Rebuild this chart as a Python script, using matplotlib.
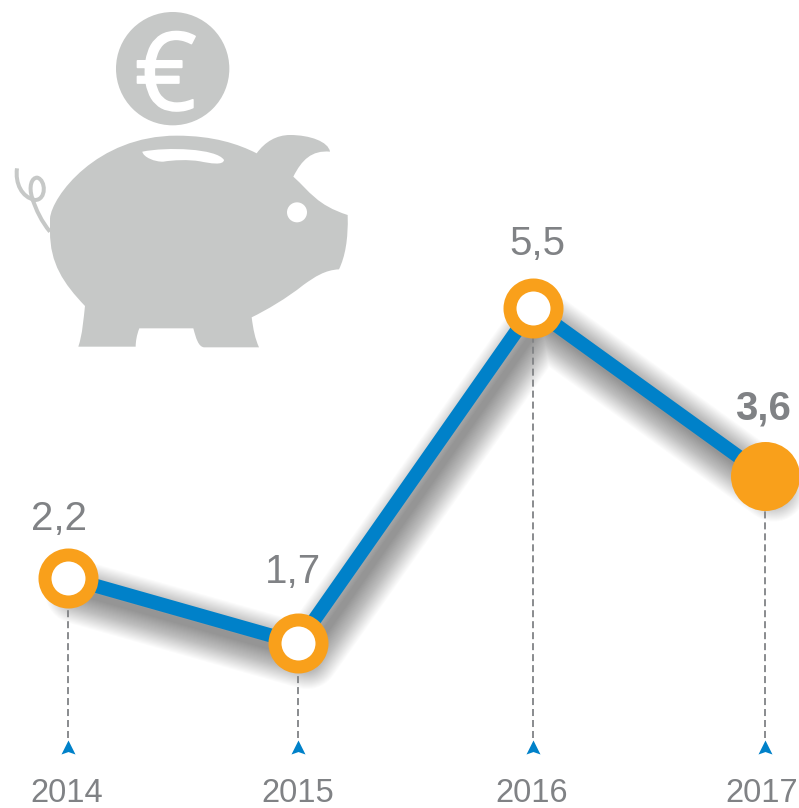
import matplotlib
matplotlib.use("Agg")
import matplotlib.pyplot as plt
import matplotlib.patheffects as pe
from matplotlib.patches import PathPatch, Circle
from matplotlib.path import Path
from matplotlib.transforms import ScaledTranslation

# positions as drawn in the picture, not quite evenly spaced
x_pos = [2014.0, 2014.99, 2016.0, 2017.0]
# heights as drawn too (2014 sits higher than its value would)
heights = [2.44, 1.70, 5.50, 3.60]
value_labels = ["2,2", "1,7", "5,5", "3,6"]
year_labels = ["2014", "2015", "2016", "2017"]

GREY = "#808285"
BLUE = "#0081C9"
ORANGE = "#F9A01B"
PIG = "#C6C8C7"
FONT = ["Liberation Sans", "DejaVu Sans"]
PX = 0.72  # points per pixel at dpi 100

fig = plt.figure(figsize=(7.99, 8.08), dpi=100)

# piggy bank, coordinates are in 3x picture pixels
icon = fig.add_axes([0, 0, 1, 1])
icon.set_xlim(0, 2397)
icon.set_ylim(2424, 0)
icon.axis("off")

M, C, L, Z = Path.MOVETO, Path.CURVE4, Path.LINETO, Path.CLOSEPOLY


def curve(start, segments, close=True):
    verts = [start]
    codes = [M]
    for seg in segments:
        if len(seg) == 1:
            verts += seg
            codes += [L]
        else:
            verts += seg
            codes += [C, C, C]
    if close:
        verts.append(start)
        codes.append(Z)
    return Path(verts, codes)


body = curve((150, 655), [
    [(155, 590), (290, 407), (530, 407)],
    [(640, 407), (715, 432), (770, 460)],
    [(795, 425), (830, 405), (870, 405)],
    [(930, 405), (985, 425), (990, 455)],
    [(935, 450), (905, 480), (880, 530)],
    [(930, 575), (950, 615), (1043, 645)],
    [(1045, 720), (1035, 770), (1017, 808)],
    [(975, 810), (945, 830), (910, 855)],
    [(860, 895), (800, 930), (755, 952)],
    [(760, 990), (765, 1015), (777, 1042)],
    [(612, 1042)],
    [(595, 1040), (588, 1015), (580, 985)],
    [(418, 985)],
    [(410, 1005), (407, 1025), (407, 1040)],
    [(235, 1040)],
    [(248, 1000), (250, 960), (255, 918)],
    [(190, 850), (150, 790), (150, 695)],
])
slot = curve((427, 455), [
    [(500, 440), (650, 445), (672, 480)],
    [(670, 497), (630, 490), (600, 484)],
    [(565, 478), (520, 480), (490, 485)],
    [(465, 486), (430, 472), (427, 455)],
])
tail = curve((150, 695), [
    [(125, 665), (108, 630), (97, 595)],
    [(85, 560), (95, 532), (112, 533)],
    [(138, 540), (140, 600), (105, 600)],
    [(65, 592), (45, 550), (51, 505)],
], close=False)

icon.add_patch(PathPatch(tail, fc="none", ec=PIG, lw=4 * PX))
icon.add_patch(PathPatch(body, fc=PIG, ec="none"))
icon.add_patch(PathPatch(slot, fc="white", ec="none"))
icon.add_patch(Circle((891, 637), 30, fc="white", ec="none"))
icon.add_patch(Circle((518, 206), 170, fc=PIG, ec="none"))
# regular weight is a bit thin and bold far too heavy, so thicken with a stroke
icon.text(497, 206, "€", color="white", fontsize=78, family="Open Sans",
          ha="center", va="center_baseline",
          path_effects=[pe.withStroke(linewidth=1.2, foreground="white")])

# chart
ax = fig.add_axes([0, 0, 1, 1])
ax.patch.set_alpha(0)
ax.set_xlim(2014 - 68 / 232.3, 2014 + 731 / 232.3)
ax.set_ylim(-0.17, 8.995)
ax.axis("off")

# soft shadow: stack of wide faint lines, shifted right and down
shift = ScaledTranslation(9 / 100, -14 / 100, fig.dpi_scale_trans)
for w in range(6, 66, 2):
    ax.plot(x_pos, heights, color="black", lw=w * PX, alpha=0.016,
            solid_capstyle="round", solid_joinstyle="round",
            transform=ax.transData + shift, zorder=1)

for x, h in zip(x_pos, heights):
    ax.plot([x, x], [0.62, h], color=GREY, lw=1.8 * PX, dashes=(3.9, 2.2),
            zorder=2)
arrow = [(-1, -1), (0, 1), (1, -1), (0, -0.65), (-1, -1)]
ax.plot(x_pos, [0.52] * 4, ls="none", marker=arrow, ms=14 * PX, color=BLUE,
        mew=0, zorder=2)

ax.plot(x_pos, heights, color=BLUE, lw=14 * PX, solid_joinstyle="miter",
        zorder=3)
ax.plot(x_pos[:3], heights[:3], ls="none", marker="o", ms=47 * PX, mfc="white",
        mec=ORANGE, mew=13 * PX, zorder=4)
ax.plot(x_pos[3:], heights[3:], ls="none", marker="o", ms=69 * PX, mfc=ORANGE,
        mew=0, zorder=4)

# offsets from each point to the label baseline, in pixels
label_dx = [-9, -5, 5, -2]
label_dy = [48, 60, 53, 56]
for i, label in enumerate(value_labels):
    ax.annotate(label, (x_pos[i], heights[i]),
                xytext=(label_dx[i] * PX, label_dy[i] * PX),
                textcoords="offset points", ha="center", va="baseline",
                color=GREY, fontsize=29, family=FONT,
                fontweight="bold" if i == 3 else "normal", zorder=5)

year_dx = [-1, 0, -1, -3]
for i, label in enumerate(year_labels):
    ax.annotate(label, (x_pos[i], -0.10), xytext=(year_dx[i] * PX, 0),
                textcoords="offset points", ha="center", va="baseline",
                color=GREY, fontsize=23.5, family=FONT)

fig.savefig("out.png", dpi=100)
